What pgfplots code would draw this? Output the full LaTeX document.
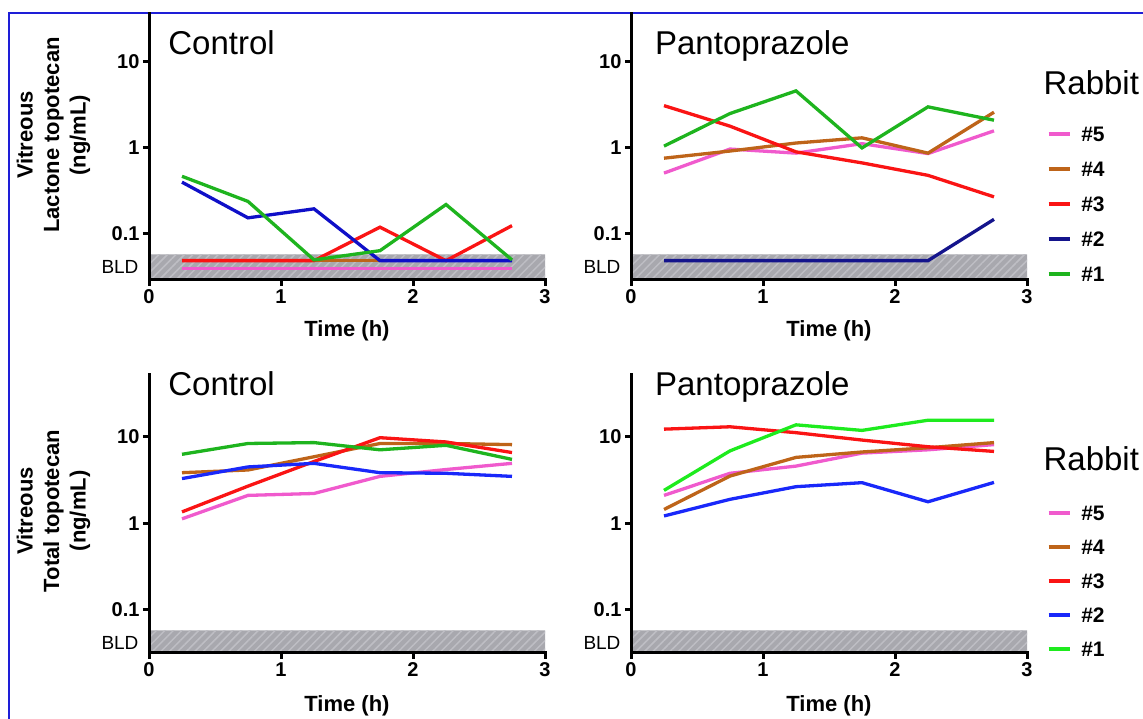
\documentclass[border=0pt]{standalone}
\usepackage{fontspec}
\setmainfont{Liberation Sans}
\usepackage{pgfplots}
\pgfplotsset{compat=1.18}
\usepackage{pgfplotstable}
\usetikzlibrary{patterns.meta}
\pgfkeys{/tikz/ymode/.code={}, /tikz/xmode/.code={}}

\definecolor{cpink}{RGB}{240,90,205}
\definecolor{cbrown}{RGB}{190,100,25}
\definecolor{cred}{RGB}{250,20,20}
\definecolor{cblueA}{RGB}{15,15,200}
\definecolor{cnavy}{RGB}{20,20,140}
\definecolor{cblueB}{RGB}{25,40,250}
\definecolor{cgreenA}{RGB}{30,180,30}
\definecolor{cgreenB}{RGB}{30,235,30}
\definecolor{bandfill}{RGB}{168,168,174}
\definecolor{bandline}{RGB}{190,190,196}
\definecolor{framecol}{RGB}{30,30,215}

\newcommand\tickfont{\fontsize{20}{20}\selectfont\bfseries}
\newcommand\bldfont{\fontsize{19}{19}\selectfont}
\newcommand\labfont{\fontsize{22}{26.5}\selectfont\bfseries}
\newcommand\titlefont{\fontsize{33}{33}\selectfont}
\newcommand\legfont{\fontsize{21}{21}\selectfont\bfseries}

% Lactone, Control
\pgfplotstableread{
t r5 r4 r3 r2 r1
0.25 0.040 0.049 0.049 0.400 0.468
0.75 0.040 0.049 0.049 0.154 0.239
1.25 0.040 0.049 0.049 0.196 0.050
1.75 0.040 0.049 0.120 0.049 0.064
2.25 0.040 0.049 0.049 0.049 0.220
2.75 0.040 0.049 0.125 0.049 0.050
}\lacCtrl
% Lactone, Pantoprazole
\pgfplotstableread{
t r5 r4 r3 r2 r1
0.25 0.51 0.76 3.10 0.049 1.05
0.75 0.97 0.92 1.79 0.049 2.51
1.25 0.87 1.14 0.90 0.049 4.60
1.75 1.12 1.31 0.67 0.049 1.00
2.25 0.86 0.87 0.48 0.049 3.00
2.75 1.58 2.60 0.27 0.148 2.10
}\lacPanto
% Total, Control
\pgfplotstableread{
t r5 r4 r3 r2 r1
0.25 1.13 3.86 1.36 3.30 6.3
0.75 2.11 4.15 2.70 4.50 8.4
1.25 2.22 5.90 5.20 4.95 8.6
1.75 3.50 8.40 9.80 3.86 7.1
2.25 4.20 8.40 8.75 3.80 8.0
2.75 4.95 8.15 6.60 3.50 5.5
}\totCtrl
% Total, Pantoprazole
\pgfplotstableread{
t r5 r4 r3 r2 r1
0.25 2.11 1.45 12.3 1.22 2.41
0.75 3.80 3.53 13.1 1.90 6.90
1.25 4.60 5.80 11.2 2.66 13.8
1.75 6.50 6.70 9.2 2.96 11.9
2.25 7.10 7.50 7.7 1.78 15.6
2.75 8.15 8.60 6.8 2.98 15.6
}\totPanto

\pgfplotsset{
 myPanel/.style={
  scale only axis, width=396pt, xmin=0, xmax=3,
  axis x line=bottom, axis y line=left,
  axis line style={-, line width=3pt, line cap=rect, black},
  xtick={0,1,2,3}, xticklabels={0,1,2,3},
  ytick={0.1,1,10}, yticklabels={0.1,1,10},
  yminorticks=false, xminorticks=false,
  tick align=outside, major tick length=6pt,
  tick style={line width=3pt, black},
  ticklabel style={font=\tickfont},
  extra y ticks={0.041}, extra y tick labels={BLD},
  extra y tick style={major tick length=0pt, yticklabel style={font=\bldfont, xshift=-7pt}},
  xlabel={Time (h)},
  xlabel style={font=\labfont, at={(axis description cs:0.5,-0.19)}, anchor=center},
  ylabel style={font=\labfont, align=center, anchor=center},
  every axis plot/.append style={line width=3.3pt},
  clip mode=individual,
  axis on top,
 },
 myTop/.style={height=266pt, ymin=0.0292, ymax=36},
 myBot/.style={height=278pt, ymin=0.0318, ymax=52},
 myLeg/.style={
  legend style={draw=none, fill=none, inner sep=0pt, outer sep=0pt, font=\legfont,
    row sep=#1, column sep=10pt, nodes={inner sep=0pt, text height=15pt, text depth=0pt}},
  legend cell align=left,
  legend image code/.code={\draw[##1, line width=3.5pt] (0pt,0pt) -- (21pt,0pt);},
 },
}

\newcommand\band{%
 \addplot[draw=none, fill=bandfill, forget plot] coordinates {(0,0.02) (3,0.02) (3,0.058) (0,0.058) (0,0.02)};
 \addplot[draw=none, pattern={Lines[angle=45,distance=6pt,line width=1.5pt]}, pattern color=bandline, forget plot] coordinates {(0,0.02) (3,0.02) (3,0.058) (0,0.058) (0,0.02)};
}

\begin{document}
\begin{tikzpicture}
\useasboundingbox (0pt,0pt) rectangle (1143pt,719pt);
\draw[framecol, line width=2pt] (9pt,0pt) -- (9pt,706pt) -- (1144pt,706pt);

% top-left
\begin{axis}[ymode=log, myPanel, myTop, at={(149pt,439pt)}, anchor=south west,
  ylabel={Vitreous\\Lactone topotecan\\(ng/mL)},
  ylabel style={at={(axis description cs:-0.241,0.545)}}]
\band
\addplot[cpink] table[x=t,y=r5]{\lacCtrl};
\addplot[cbrown] table[x=t,y=r4]{\lacCtrl};
\addplot[cred] table[x=t,y=r3]{\lacCtrl};
\addplot[cblueA] table[x=t,y=r2]{\lacCtrl};
\addplot[cgreenA] table[x=t,y=r1]{\lacCtrl};
\node[anchor=base west, font=\titlefont] at (axis description cs:0.040,0.846) {Control};
\end{axis}

% top-right
\begin{axis}[ymode=log, myPanel, myTop, at={(631pt,439pt)}, anchor=south west,
  myLeg=20pt, legend style={at={(axis description cs:1.050,0.577)}, anchor=north west}]
\band
\addplot[cpink] table[x=t,y=r5]{\lacPanto};
\addplot[cbrown] table[x=t,y=r4]{\lacPanto};
\addplot[cred] table[x=t,y=r3]{\lacPanto};
\addplot[cnavy] table[x=t,y=r2]{\lacPanto};
\addplot[cgreenA] table[x=t,y=r1]{\lacPanto};
\legend{\#5,\#4,\#3,\#2,\#1}
\node[anchor=base west, font=\titlefont] at (axis description cs:0.052,0.846) {Pantoprazole};
\node[anchor=base west, font=\titlefont] at (axis description cs:1.033,0.699) {Rabbit};
\end{axis}

% bottom-left
\begin{axis}[ymode=log, myPanel, myBot, at={(149pt,66pt)}, anchor=south west,
  ylabel={Vitreous\\Total topotecan\\(ng/mL)},
  ylabel style={at={(axis description cs:-0.241,0.511)}}]
\band
\addplot[cpink] table[x=t,y=r5]{\totCtrl};
\addplot[cbrown] table[x=t,y=r4]{\totCtrl};
\addplot[cred] table[x=t,y=r3]{\totCtrl};
\addplot[cblueB] table[x=t,y=r2]{\totCtrl};
\addplot[cgreenA] table[x=t,y=r1]{\totCtrl};
\node[anchor=base west, font=\titlefont] at (axis description cs:0.040,0.928) {Control};
\end{axis}

% bottom-right
\begin{axis}[ymode=log, myPanel, myBot, at={(631pt,66pt)}, anchor=south west,
  myLeg=19pt, legend style={at={(axis description cs:1.050,0.531)}, anchor=north west}]
\band
\addplot[cpink] table[x=t,y=r5]{\totPanto};
\addplot[cbrown] table[x=t,y=r4]{\totPanto};
\addplot[cred] table[x=t,y=r3]{\totPanto};
\addplot[cblueB] table[x=t,y=r2]{\totPanto};
\addplot[cgreenB] table[x=t,y=r1]{\totPanto};
\legend{\#5,\#4,\#3,\#2,\#1}
\node[anchor=base west, font=\titlefont] at (axis description cs:0.052,0.928) {Pantoprazole};
\node[anchor=base west, font=\titlefont] at (axis description cs:1.033,0.658) {Rabbit};
\end{axis}
\end{tikzpicture}
\end{document}
